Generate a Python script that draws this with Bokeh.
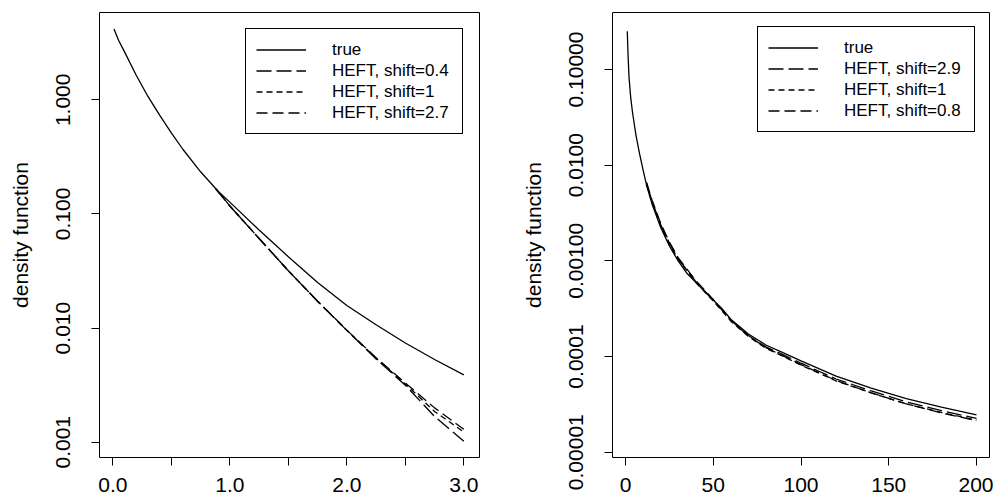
from bokeh.plotting import figure
from bokeh.layouts import row
from bokeh.models import Range1d, FixedTicker
from bokeh.embed import file_html
from bokeh.resources import INLINE

# ---------------- left panel data ----------------
x_left_true = [0.01, 0.05, 0.1, 0.2, 0.3, 0.4, 0.5, 0.6, 0.75, 0.9, 1.0, 1.25, 1.5, 1.75, 2.0, 2.25, 2.5, 2.75, 3.0]
dens_left_true = [4.17, 3.31, 2.63, 1.64, 1.07, 0.733, 0.513, 0.367, 0.234, 0.158, 0.127, 0.0724, 0.0422,
                  0.0251, 0.0158, 0.0107, 0.00741, 0.00531, 0.00389]
x_left_heft = [0.88, 1.0, 1.25, 1.5, 1.75, 2.0, 2.25, 2.5, 2.75, 3.0]
heft_left_04 = [0.166, 0.1175, 0.061, 0.0318, 0.0172, 0.00955, 0.00537, 0.00316, 0.00168, 0.00102]
heft_left_1 = [0.166, 0.1175, 0.061, 0.0318, 0.0172, 0.00955, 0.00545, 0.00324, 0.00186, 0.00123]
heft_left_27 = [0.166, 0.1175, 0.061, 0.0318, 0.0172, 0.0096, 0.0055, 0.00331, 0.00200, 0.0013]
left_names = ["true", "HEFT, shift=0.4", "HEFT, shift=1", "HEFT, shift=2.7"]

left_x_ticks = [0, 0.5, 1, 1.5, 2, 2.5, 3]
left_x_labels = ["0.0", "", "1.0", "", "2.0", "", "3.0"]
left_y_ticks = [0.001, 0.01, 0.1, 1.0]
left_y_labels = ["0.001", "0.010", "0.100", "1.000"]

# ---------------- right panel data ----------------
x_right_true = [1, 1.5, 2, 3, 4, 6, 8, 10, 12, 15, 20, 25, 30, 35, 40, 45, 50, 55, 60, 70, 80, 90, 100,
                120, 140, 160, 180, 200]
dens_right_true = [0.251, 0.134, 0.0832, 0.0501, 0.0355, 0.0204, 0.0132, 0.00891, 0.00617, 0.00398, 0.00224,
                   0.00143, 0.00100, 0.000741, 0.000596, 0.000479, 0.000389, 0.000316, 0.000245, 0.000172,
                   0.000132, 0.000109, 0.0000902, 0.0000624, 0.0000468, 0.0000363, 0.0000295, 0.0000245]
x_right_heft = [12, 15, 20, 25, 30, 40, 50, 60, 70, 80, 90, 100, 120, 140, 160, 180, 200]
heft_right_29 = [0.00646, 0.00427, 0.0024, 0.00153, 0.00105, 0.00061, 0.000389, 0.00024, 0.000166, 0.000126,
                 0.000104, 0.0000851, 0.0000582, 0.0000437, 0.0000335, 0.0000272, 0.0000226]
heft_right_1 = [0.00631, 0.00417, 0.00234, 0.0015, 0.00104, 0.000596, 0.00038, 0.000234, 0.000162, 0.000122,
                0.0001, 0.0000813, 0.0000556, 0.0000417, 0.000032, 0.000026, 0.0000216]
heft_right_08 = [0.00661, 0.00437, 0.00248, 0.00157, 0.00108, 0.000624, 0.000394, 0.00024, 0.000164, 0.000124,
                 0.000101, 0.0000822, 0.0000562, 0.0000417, 0.000032, 0.0000257, 0.0000214]
right_names = ["true", "HEFT, shift=2.9", "HEFT, shift=1", "HEFT, shift=0.8"]

right_x_ticks = [0, 50, 100, 150, 200]
right_x_labels = ["0", "50", "100", "150", "200"]
right_y_ticks = [0.00001, 0.0001, 0.001, 0.01, 0.1]
right_y_labels = ["0.00001", "0.0001", "0.00100", "0.0100", "0.10000"]

FONT = "Liberation Sans"
DASHES = ["solid", "15 5", "6 4", "11 5"]


def make_fig(width, bl, br, xr, yr, xt, xl, yt, yl):
    p = figure(width=width, height=504, x_range=Range1d(*xr), y_range=Range1d(*yr),
               y_axis_type="log", output_backend="svg", toolbar_location=None,
               min_border_left=bl, min_border_right=br, min_border_top=12, min_border_bottom=47)
    p.grid.visible = False
    p.outline_line_color = "black"
    p.outline_line_alpha = 1.0
    p.outline_line_width = 1
    p.background_fill_color = "white"
    p.border_fill_color = "white"
    p.xaxis.ticker = FixedTicker(ticks=xt)
    p.yaxis.ticker = FixedTicker(ticks=yt)
    p.xaxis.major_label_overrides = dict(zip(xt, xl))
    p.yaxis.major_label_overrides = dict(zip(yt, yl))
    p.yaxis.major_label_orientation = "vertical"
    p.yaxis.axis_label = "density function"
    for ax in p.axis:
        ax.axis_line_color = None
        ax.major_tick_line_color = "black"
        ax.major_tick_in = 0
        ax.major_tick_out = 8
        ax.minor_tick_line_color = None
        ax.major_label_text_font = FONT
        ax.major_label_text_font_size = "21px"
        ax.major_label_text_color = "black"
        ax.axis_label_text_font = FONT
        ax.axis_label_text_font_size = "21px"
        ax.axis_label_text_font_style = "normal"
        ax.axis_label_text_color = "black"
    p.xaxis.major_label_standoff = 12
    p.yaxis.major_label_standoff = 21
    p.yaxis.axis_label_standoff = 22
    return p


def add_lines(p, xs_list, ys_list, names, margin):
    for xs, ys, nm, dash in zip(xs_list, ys_list, names, DASHES):
        p.line(xs, ys, line_color="black", line_width=1.3, line_dash=dash, legend_label=nm)
    lg = p.legend[0]
    lg.location = "top_right"
    lg.margin = margin
    lg.border_line_color = "black"
    lg.border_line_width = 1
    lg.border_line_alpha = 1
    lg.background_fill_alpha = 1
    lg.label_text_font = FONT
    lg.label_text_font_size = "17px"
    lg.label_text_color = "black"
    lg.padding = 10
    lg.spacing = 0
    lg.label_height = 21
    lg.glyph_height = 21
    lg.glyph_width = 50
    lg.label_standoff = 26
    lg.label_width = 120


p1 = make_fig(515, 99, 36, (-0.114, 3.134), (0.000735, 5.82),
              left_x_ticks, left_x_labels, left_y_ticks, left_y_labels)
add_lines(p1, [x_left_true, x_left_heft, x_left_heft, x_left_heft],
          [dens_left_true, heft_left_04, heft_left_1, heft_left_27], left_names, 16)

p2 = make_fig(478, 97, 4, (-7.41, 207.4), (0.0000088, 0.394),
              right_x_ticks, right_x_labels, right_y_ticks, right_y_labels)
add_lines(p2, [x_right_true, x_right_heft, x_right_heft, x_right_heft],
          [dens_right_true, heft_right_29, heft_right_1, heft_right_08], right_names, 14)

layout = row(p1, p2)
open("out.html", "w").write(file_html(layout, INLINE))
